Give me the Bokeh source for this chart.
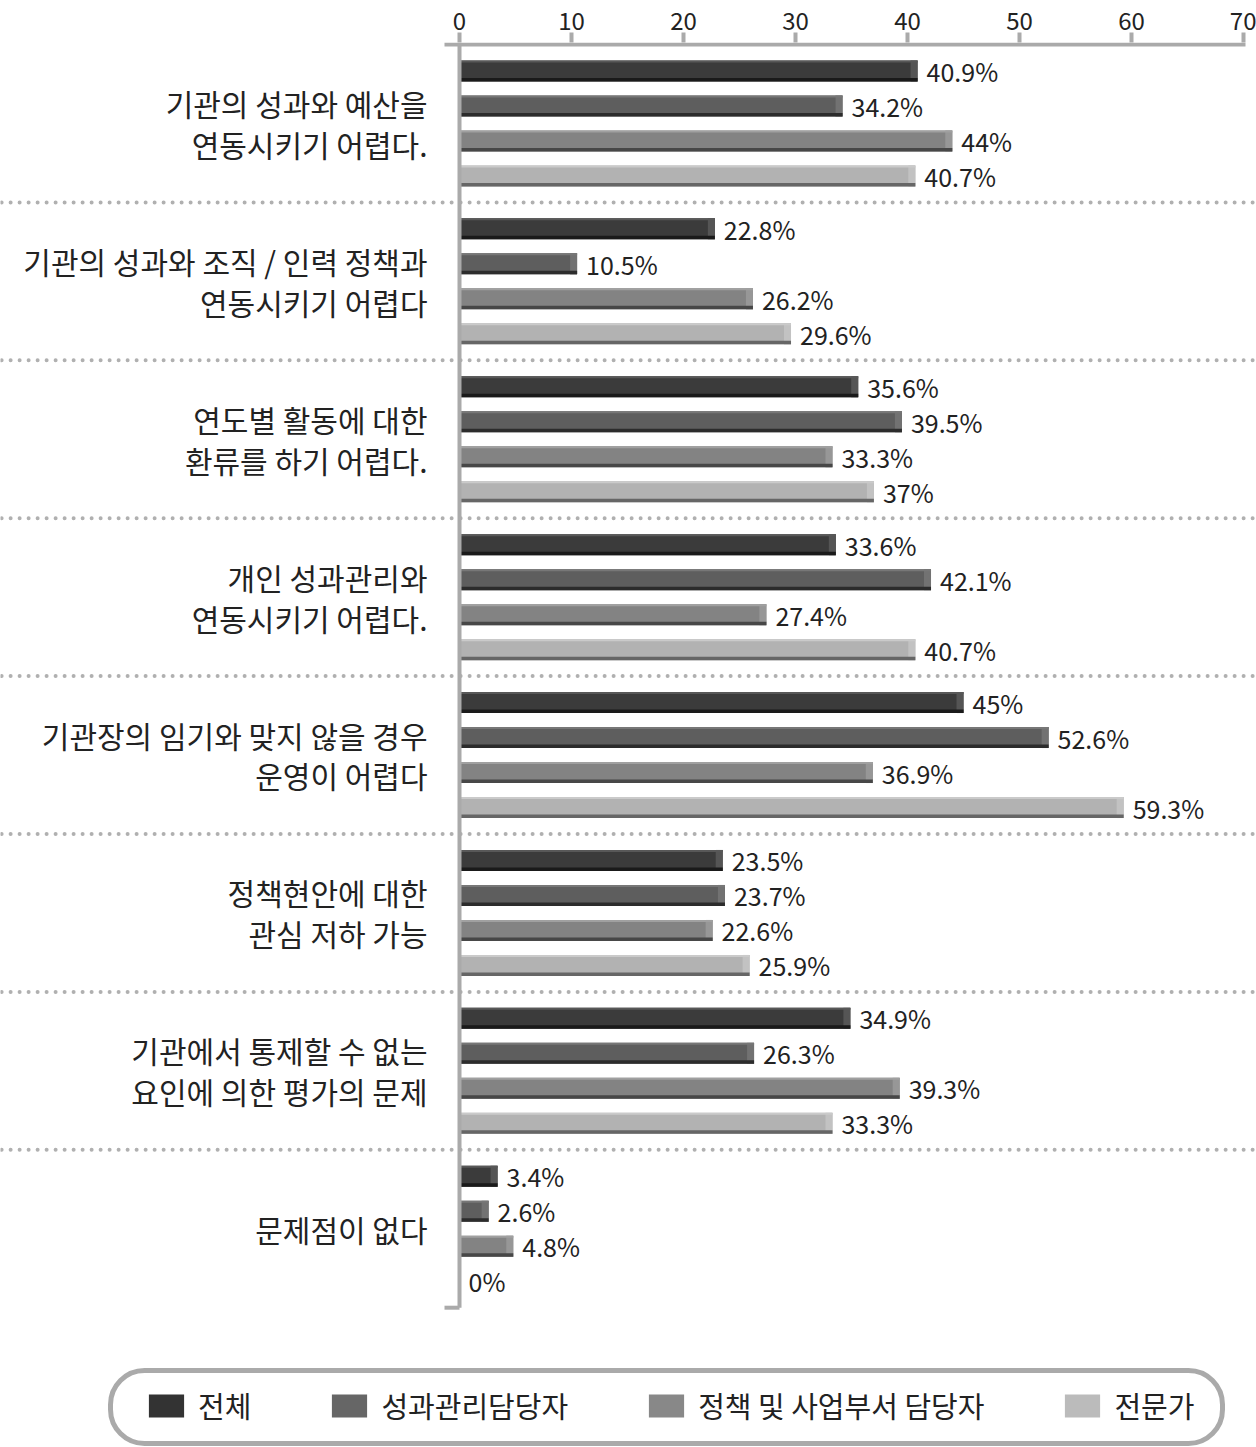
from bokeh.plotting import figure
from bokeh.models import ColumnDataSource, Range1d, FixedTicker, Legend, LegendItem, BoxAnnotation
from bokeh.core.properties import value
from bokeh.embed import file_html
from bokeh.resources import INLINE

# ---------------- data ----------------
categories = [
    "기관의 성과와 예산을\n연동시키기 어렵다.",
    "기관의 성과와 조직 / 인력 정책과\n연동시키기 어렵다",
    "연도별 활동에 대한\n환류를 하기 어렵다.",
    "개인 성과관리와\n연동시키기 어렵다.",
    "기관장의 임기와 맞지 않을 경우\n운영이 어렵다",
    "정책현안에 대한\n관심 저하 가능",
    "기관에서 통제할 수 없는\n요인에 의한 평가의 문제",
    "문제점이 없다",
]
series_names = ["전체", "성과관리담당자", "정책 및 사업부서 담당자", "전문가"]
total_vals = [40.9, 22.8, 35.6, 33.6, 45.0, 23.5, 34.9, 3.4]
manager_vals = [34.2, 10.5, 39.5, 42.1, 52.6, 23.7, 26.3, 2.6]
policy_vals = [44.0, 26.2, 33.3, 27.4, 36.9, 22.6, 39.3, 4.8]
expert_vals = [40.7, 29.6, 37.0, 40.7, 59.3, 25.9, 33.3, 0.0]
x_ticks = [0, 10, 20, 30, 40, 50, 60, 70]

series_values = [total_vals, manager_vals, policy_vals, expert_vals]

# ---------------- style / layout ----------------
FONT = value("Noto Sans CJK KR")
colors = ["#3b3b3b", "#5e5e5e", "#838383", "#b2b2b2"]
dark = ["#1a1a1a", "#2c2c2c", "#474747", "#666666"]
light = ["#585858", "#777777", "#a0a0a0", "#cacaca"]
shine = ["#555555", "#727272", "#979797", "#c2c2c2"]
legend_colors = ["#333333", "#666666", "#888888", "#bbbbbb"]
AXIS_GREY = "#aaaaaa"

W, H = 1256, 1447
PX_PER_UNIT = 11.2
ZERO_PX = 459
GROUP_PX = 157.9
TOP_PX = 42

x_start = -ZERO_PX / PX_PER_UNIT
x_end = x_start + W / PX_PER_UNIT
y_top = -0.5 - 2 / GROUP_PX
y_bottom = y_top + (H - TOP_PX) / GROUP_PX


def px_x(px):
    return x_start + px / PX_PER_UNIT


def px_y(px):
    return y_top + (px - TOP_PX) / GROUP_PX


n = len(categories)
bar_h = 21 / GROUP_PX
pitch = 35 / GROUP_PX
offsets = [(-1.5 + k) * pitch for k in range(4)]

p = figure(width=W, height=H, output_backend="svg", toolbar_location=None,
           x_range=Range1d(x_start, x_end), y_range=Range1d(y_bottom, y_top),
           x_axis_location="above", y_axis_location=None,
           min_border_left=0, min_border_right=0, min_border_bottom=0,
           min_border_top=TOP_PX)
p.outline_line_color = None
p.grid.visible = False
p.background_fill_color = "white"

ax = p.xaxis[0]
ax.ticker = FixedTicker(ticks=x_ticks)
ax.axis_line_color = None
ax.major_tick_out = 10
ax.major_tick_in = 0
ax.major_tick_line_color = AXIS_GREY
ax.major_tick_line_width = 4
ax.minor_tick_line_color = None
ax.major_label_standoff = 3
ax.major_label_text_font = "Noto Sans CJK KR"
ax.major_label_text_font_size = "24px"
ax.major_label_text_color = "#222222"

# dotted separators between groups
sep_y = [i + 0.5 for i in range(n - 1)]
p.segment(x0=[x_start + 0.1] * len(sep_y), x1=[x_end - 0.3] * len(sep_y), y0=sep_y, y1=sep_y,
          line_color="#b0b0b0", line_width=4, line_dash="0 9", line_cap="round")

# bars
renderers = []
for k, vals in enumerate(series_values):
    ys = [i + offsets[k] for i in range(n)]
    src = ColumnDataSource(dict(
        y=ys, v=vals,
        v_in=[max(0.0, v - 7 / PX_PER_UNIT) for v in vals],
        y_bot=[y + bar_h / 2 - 1.75 / GROUP_PX for y in ys],
        y_top=[y - bar_h / 2 + 1.0 / GROUP_PX for y in ys],
        label=[f"{v:g}%" for v in vals],
    ))
    r = p.hbar(y="y", left=0, right="v", height=bar_h, source=src,
               fill_color=colors[k], line_color=None)
    p.hbar(y="y", left="v_in", right="v", height=bar_h, source=src,
           fill_color=shine[k], line_color=None)
    p.hbar(y="y_top", left=0, right="v", height=2 / GROUP_PX, source=src,
           fill_color=light[k], line_color=None)
    p.hbar(y="y_bot", left=0, right="v", height=3.5 / GROUP_PX, source=src,
           fill_color=dark[k], line_color=None)
    p.text(x="v", y="y", text="label", source=src, x_offset=9,
           text_align="left", text_baseline="middle", text_font=FONT,
           text_font_size="25px", text_color="#222222")
    renderers.append(r)

# axis lines (drawn over bar starts)
stub = -15 / PX_PER_UNIT
p.segment(x0=[0], y0=[-0.5], x1=[0], y1=[n - 0.5], line_color=AXIS_GREY, line_width=4)
p.segment(x0=[stub], y0=[-0.5], x1=[70 + 2 / PX_PER_UNIT], y1=[-0.5],
          line_color=AXIS_GREY, line_width=4)
p.segment(x0=[stub], y0=[n - 0.5], x1=[0], y1=[n - 0.5], line_color=AXIS_GREY, line_width=4)

# category labels
cat_src = ColumnDataSource(dict(x=[0] * n, y=list(range(n)), text=categories))
p.text(x="x", y="y", text="text", source=cat_src, x_offset=-32,
       text_align="right", text_baseline="middle", text_font=FONT,
       text_font_size="30px", text_line_height=0.93, text_color="#222222")

# legend frame (rounded box)
frame = BoxAnnotation(left=px_x(110), right=px_x(1222), top=px_y(1370), bottom=px_y(1443),
                      fill_color="white", fill_alpha=1.0,
                      line_color=AXIS_GREY, line_width=5, line_alpha=1.0)
if "border_radius" in frame.properties():
    frame.border_radius = 34
p.add_layout(frame)

# legend swatches use dedicated renderers carrying the legend colours
legend_renderers = []
for k in range(4):
    lr = p.hbar(y=[n + 5], left=[0], right=[0], height=0.1,
                fill_color=legend_colors[k], line_color=None)
    legend_renderers.append(lr)

items = [LegendItem(label=name, renderers=[r]) for name, r in zip(series_names, legend_renderers)]
legend = Legend(items=items, orientation="horizontal", location=(144, 21))
legend.label_text_font = "Noto Sans CJK KR"
legend.label_text_font_size = "29px"
legend.label_text_color = "#222222"
legend.glyph_width = 44
legend.glyph_height = 29
legend.label_standoff = 10
legend.spacing = 76
legend.padding = 0
legend.margin = 0
legend.border_line_color = None
legend.background_fill_alpha = 0.0
p.add_layout(legend)

open("out.html", "w").write(file_html(p, INLINE))
